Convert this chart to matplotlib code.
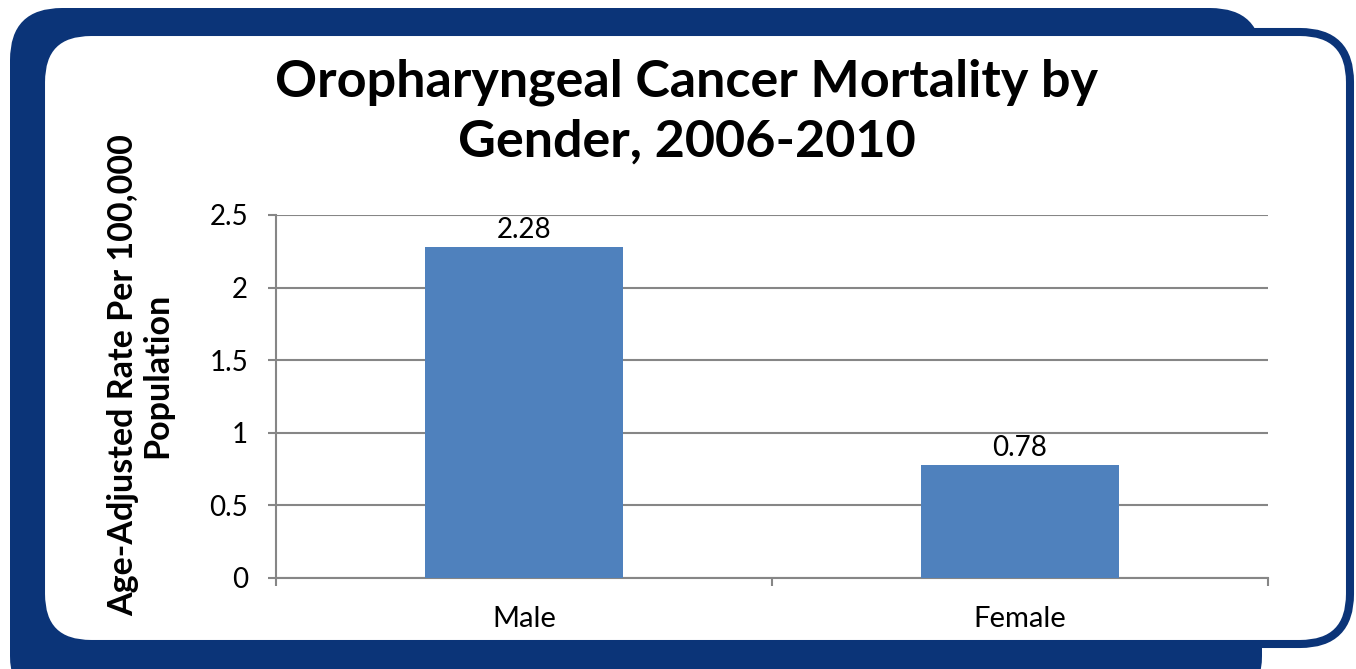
import numpy as np
import matplotlib
matplotlib.use("Agg")
import matplotlib.pyplot as plt
from matplotlib.patches import FancyBboxPatch

# Chart data
genders = ["Male", "Female"]
rates = [2.28, 0.78]
rate_labels = ["2.28", "0.78"]
y_ticks = [0, 0.5, 1, 1.5, 2, 2.5]
y_tick_labels = ["0", "0.5", "1", "1.5", "2", "2.5"]

title = "Oropharyngeal Cancer Mortality by\nGender, 2006-2010"
y_title = "Age-Adjusted Rate Per 100,000\nPopulation"

navy = "#0b3478"
bar_blue = "#4f81bd"
grid_grey = "#868686"

plt.rcParams["font.family"] = ["Lato", "DejaVu Sans"]

W, H = 1356, 669
fig = plt.figure(figsize=(W / 100, H / 100), dpi=100)

# Background frame, drawn in pixel coordinates
bg = fig.add_axes([0, 0, 1, 1])
bg.set_xlim(0, W)
bg.set_ylim(H, 0)
bg.axis("off")
bg.add_patch(FancyBboxPatch((10, 8), 1252, 700, boxstyle="round,pad=0,rounding_size=52",
                            facecolor=navy, edgecolor="none"))
bg.add_patch(FancyBboxPatch((41, 32), 1309, 612, boxstyle="round,pad=0,rounding_size=50",
                            facecolor="white", edgecolor=navy, linewidth=5.8))

# Main chart
ax = fig.add_axes([276 / W, 1 - 578 / H, (1268 - 276) / W, (578 - 215) / H])
x = np.arange(len(genders))
bars = ax.bar(x, rates, width=0.4, color=bar_blue, zorder=3)
for xi, v, lab in zip(x, rates, rate_labels):
    ax.annotate(lab, (xi, v), xytext=(0, 3), textcoords="offset points",
                ha="center", va="bottom", fontsize=20)

ax.set_xlim(-0.5, 1.5)
ax.set_ylim(0, 2.5)
ax.set_yticks(y_ticks)
ax.set_yticklabels(y_tick_labels)
ax.set_xticks(x)
ax.set_xticklabels(genders)
ax.set_xticks([-0.5, 0.5, 1.5], minor=True)

ax.grid(axis="y", color=grid_grey, linewidth=1.5, zorder=0)
for side in ["top", "right"]:
    ax.spines[side].set_visible(False)
for side in ["left", "bottom"]:
    ax.spines[side].set_color(grid_grey)
    ax.spines[side].set_linewidth(1.5)

ax.tick_params(axis="y", length=6, width=1.5, color=grid_grey, pad=14, labelsize=20)
ax.tick_params(axis="x", which="major", length=0, pad=20, labelsize=21)
ax.tick_params(axis="x", which="minor", length=6, width=1.5, color=grid_grey)

fig.text(687 / W, 1 - 112 / H, title, ha="center", va="center", fontsize=37.5,
         fontweight="bold", linespacing=1.32)
fig.text(140 / W, 1 - 375 / H, y_title, ha="center", va="center", rotation=90,
         fontsize=24.5, fontweight="bold", linespacing=1.1)

fig.savefig("out.png", dpi=100)
